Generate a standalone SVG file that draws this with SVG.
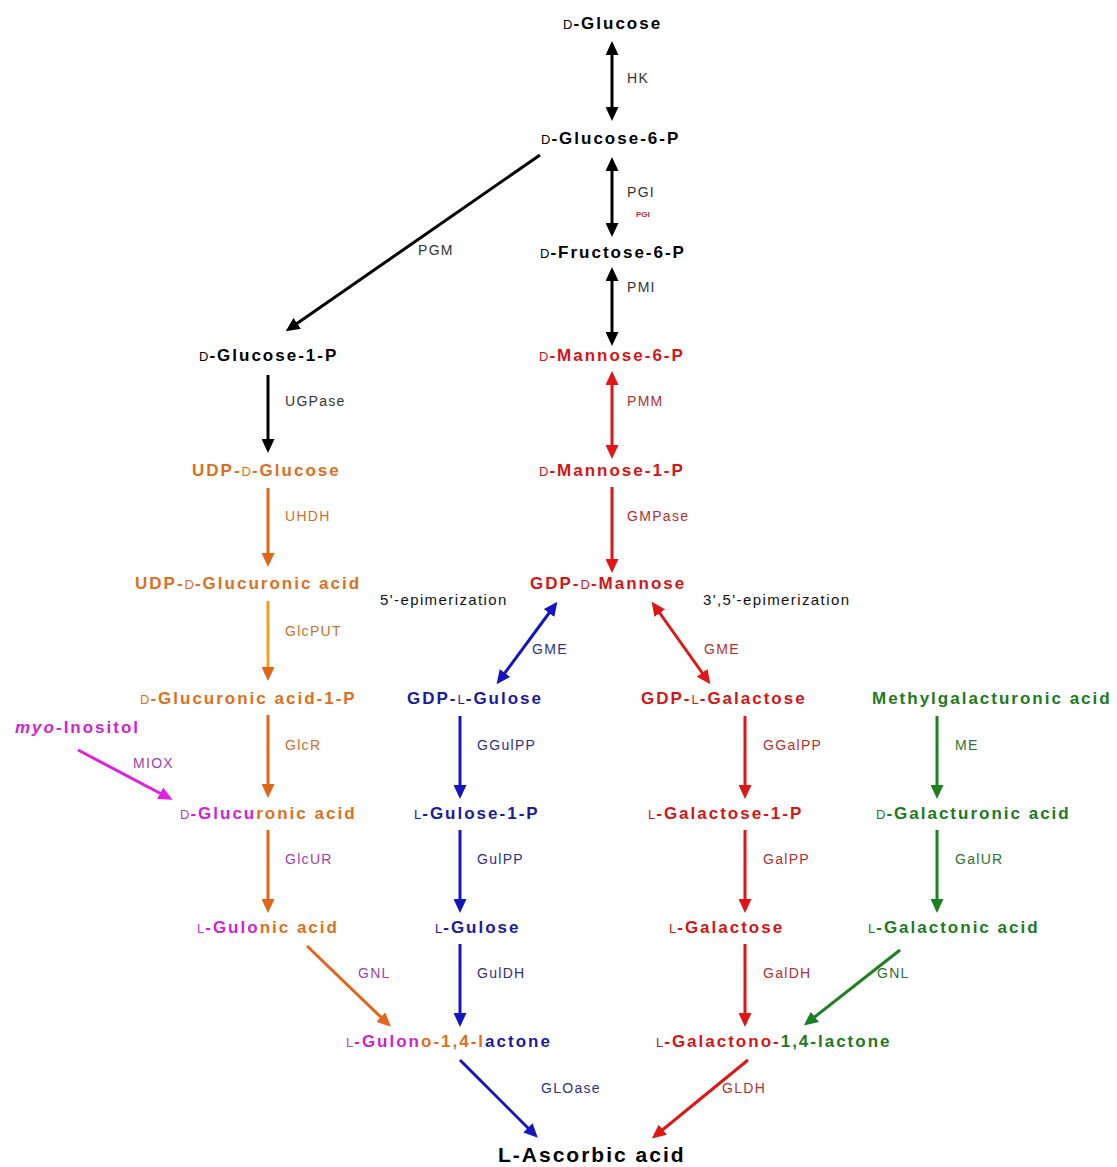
<svg xmlns="http://www.w3.org/2000/svg" width="1117" height="1167" viewBox="0 0 1117 1167">
<style>
.n{font-family:"Liberation Sans",Arial,sans-serif;font-weight:bold;font-size:17px;letter-spacing:2px}
.p{font-weight:normal;font-size:13px;letter-spacing:1px}
.e{font-family:"Liberation Sans",Arial,sans-serif;font-size:14px;letter-spacing:1.3px}
.ep{font-family:"Liberation Sans",Arial,sans-serif;font-size:15px;letter-spacing:1.4px;fill:#111}
.k{fill:#000}.o{fill:#dd6f1c}.r{fill:#d41515}.b{fill:#1a1aa0}.g{fill:#1c7a1c}.m{fill:#d21fd2}.mp{fill:#b040c0}
.ek{fill:#333}.eo{fill:#c87030}.er{fill:#b03030}.eb{fill:#303080}.eg{fill:#307030}.em{fill:#a040b0}
.big{font-size:21px;letter-spacing:2px}
line{stroke-width:3;fill:none}
.sk{stroke:#000}.so{stroke:#e0661a}.sy{stroke:#f0a020}.sr{stroke:#e01515}.sb{stroke:#1414c0}.sg{stroke:#1c8020}.sm{stroke:#e020e0}
</style>
<defs>
<marker id="ak" markerUnits="userSpaceOnUse" markerWidth="15" markerHeight="13" refX="10" refY="6.5" orient="auto-start-reverse"><path d="M0,0 L14,6.5 L0,13 z" fill="#000"/></marker>
<marker id="ao" markerUnits="userSpaceOnUse" markerWidth="15" markerHeight="13" refX="10" refY="6.5" orient="auto-start-reverse"><path d="M0,0 L14,6.5 L0,13 z" fill="#e0661a"/></marker>
<marker id="ar" markerUnits="userSpaceOnUse" markerWidth="15" markerHeight="13" refX="10" refY="6.5" orient="auto-start-reverse"><path d="M0,0 L14,6.5 L0,13 z" fill="#e01515"/></marker>
<marker id="ab" markerUnits="userSpaceOnUse" markerWidth="15" markerHeight="13" refX="10" refY="6.5" orient="auto-start-reverse"><path d="M0,0 L14,6.5 L0,13 z" fill="#1414c0"/></marker>
<marker id="ag" markerUnits="userSpaceOnUse" markerWidth="15" markerHeight="13" refX="10" refY="6.5" orient="auto-start-reverse"><path d="M0,0 L14,6.5 L0,13 z" fill="#1c8020"/></marker>
<marker id="am" markerUnits="userSpaceOnUse" markerWidth="15" markerHeight="13" refX="10" refY="6.5" orient="auto-start-reverse"><path d="M0,0 L14,6.5 L0,13 z" fill="#e020e0"/></marker>
</defs>
<rect width="1117" height="1167" fill="#fff"/>

<g id="connectors">
<line class="sk" x1="612" y1="45" x2="612" y2="117" marker-start="url(#ak)" marker-end="url(#ak)"/>
<line class="sk" x1="612" y1="161" x2="612" y2="233" marker-start="url(#ak)" marker-end="url(#ak)"/>
<line class="sk" x1="612" y1="271" x2="612" y2="342" marker-start="url(#ak)" marker-end="url(#ak)"/>
<line class="sk" x1="540" y1="155" x2="289" y2="329" marker-end="url(#ak)"/>
<line class="sk" x1="268" y1="375" x2="268" y2="449" marker-end="url(#ak)"/>
<line class="sr" x1="612" y1="375" x2="612" y2="455" marker-start="url(#ar)" marker-end="url(#ar)"/>
<line class="sr" x1="612" y1="487" x2="612" y2="569" marker-end="url(#ar)"/>
<line class="so" x1="268" y1="488" x2="268" y2="563" marker-end="url(#ao)"/>
<line class="sy" x1="268" y1="601" x2="268" y2="677" marker-end="url(#ao)"/>
<line class="so" x1="268" y1="715" x2="268" y2="794" marker-end="url(#ao)"/>
<line class="sm" x1="78" y1="750" x2="169" y2="798" marker-end="url(#am)"/>
<line class="so" x1="268" y1="830" x2="268" y2="909" marker-end="url(#ao)"/>
<line class="so" x1="307" y1="946" x2="388" y2="1024" marker-end="url(#ao)"/>
<line class="sb" x1="555" y1="605" x2="499" y2="681" marker-start="url(#ab)" marker-end="url(#ab)"/>
<line class="sr" x1="654" y1="605" x2="708" y2="681" marker-start="url(#ar)" marker-end="url(#ar)"/>
<line class="sb" x1="460" y1="716" x2="460" y2="795" marker-end="url(#ab)"/>
<line class="sb" x1="460" y1="830" x2="460" y2="909" marker-end="url(#ab)"/>
<line class="sb" x1="460" y1="944" x2="460" y2="1023" marker-end="url(#ab)"/>
<line class="sr" x1="745" y1="716" x2="745" y2="795" marker-end="url(#ar)"/>
<line class="sr" x1="745" y1="830" x2="745" y2="909" marker-end="url(#ar)"/>
<line class="sr" x1="745" y1="944" x2="745" y2="1023" marker-end="url(#ar)"/>
<line class="sg" x1="937" y1="716" x2="937" y2="795" marker-end="url(#ag)"/>
<line class="sg" x1="937" y1="830" x2="937" y2="909" marker-end="url(#ag)"/>
<line class="sg" x1="900" y1="950" x2="807" y2="1023" marker-end="url(#ag)"/>
<line class="sb" x1="460" y1="1060" x2="535" y2="1135" marker-end="url(#ab)"/>
<line class="sr" x1="748" y1="1060" x2="655" y2="1136" marker-end="url(#ar)"/>
</g>

<g id="enzyme-labels">
<text class="e ek" x="627" y="83">HK</text>
<text class="e ek" x="627" y="197">PGI</text>
<text x="636" y="217" font-family="Liberation Sans,Arial,sans-serif" font-size="8" font-weight="bold" fill="#c03030">PGI</text>
<text class="e ek" x="627" y="292">PMI</text>
<text class="e ek" x="418" y="255">PGM</text>
<text class="e ek" x="285" y="406">UGPase</text>
<text class="e er" x="627" y="406">PMM</text>
<text class="e eo" x="285" y="521">UHDH</text>
<text class="e er" x="627" y="521">GMPase</text>
<text class="e eo" x="285" y="636">GlcPUT</text>
<text class="ep" x="380" y="605">5'-epimerization</text>
<text class="ep" x="703" y="605">3',5'-epimerization</text>
<text class="e eb" x="532" y="654">GME</text>
<text class="e er" x="704" y="654">GME</text>
<text class="e eo" x="285" y="750">GlcR</text>
<text class="e em" x="133" y="768">MIOX</text>
<text class="e eb" x="477" y="750">GGulPP</text>
<text class="e er" x="763" y="750">GGalPP</text>
<text class="e eg" x="955" y="750">ME</text>
<text class="e em" x="285" y="864">GlcUR</text>
<text class="e eb" x="477" y="864">GulPP</text>
<text class="e er" x="763" y="864">GalPP</text>
<text class="e eg" x="955" y="864">GalUR</text>
<text class="e em" x="358" y="978">GNL</text>
<text class="e eb" x="477" y="978">GulDH</text>
<text class="e er" x="763" y="978">GalDH</text>
<text class="e eg" x="877" y="978">GNL</text>
<text class="e eb" x="541" y="1093">GLOase</text>
<text class="e er" x="722" y="1093">GLDH</text>
</g>

<g id="n-glucose"><text class="n k" x="563" y="29"><tspan class="p">D</tspan>-Glucose</text></g>
<g id="n-glucose6p"><text class="n k" x="541" y="144"><tspan class="p">D</tspan>-Glucose-6-P</text></g>
<g id="n-fructose6p"><text class="n k" x="540" y="258"><tspan class="p">D</tspan>-Fructose-6-P</text></g>
<g id="n-glucose1p"><text class="n k" x="199" y="361"><tspan class="p">D</tspan>-Glucose-1-P</text></g>
<g id="n-mannose6p"><text class="n r" x="539" y="361"><tspan class="p">D</tspan>-Mannose-6-P</text></g>
<g id="n-udpglucose"><text class="n o" x="192" y="476">UDP-<tspan class="p">D</tspan>-Glucose</text></g>
<g id="n-mannose1p"><text class="n r" x="539" y="476"><tspan class="p">D</tspan>-Mannose-1-P</text></g>
<g id="n-udpglucuronic"><text class="n o" x="135" y="589">UDP-<tspan class="p">D</tspan>-Glucuronic acid</text></g>
<g id="n-gdpmannose"><text class="n r" x="530" y="589">GDP-<tspan class="p">D</tspan>-Mannose</text></g>
<g id="n-glucuronic1p"><text class="n o" x="140" y="704"><tspan class="p">D</tspan>-Glucuronic acid-1-P</text></g>
<g id="n-gdpgulose"><text class="n b" x="407" y="704">GDP-<tspan class="p">L</tspan>-Gulose</text></g>
<g id="n-gdpgalactose"><text class="n r" x="641" y="704">GDP-<tspan class="p">L</tspan>-Galactose</text></g>
<g id="n-methylgal"><text class="n g" x="872" y="704">Methylgalacturonic acid</text></g>
<g id="n-inositol"><text class="n m" x="15" y="733"><tspan font-style="italic">myo</tspan>-Inositol</text></g>
<g id="n-glucuronic"><text class="n" x="180" y="819"><tspan class="p mp">D</tspan><tspan class="m">-Glucu</tspan><tspan class="o">ronic acid</tspan></text></g>
<g id="n-gulose1p"><text class="n b" x="414" y="819"><tspan class="p">L</tspan>-Gulose-1-P</text></g>
<g id="n-galactose1p"><text class="n r" x="648" y="819"><tspan class="p">L</tspan>-Galactose-1-P</text></g>
<g id="n-galacturonic"><text class="n g" x="876" y="819"><tspan class="p">D</tspan>-Galacturonic acid</text></g>
<g id="n-gulonic"><text class="n" x="197" y="933"><tspan class="p mp">L</tspan><tspan class="m">-Gulo</tspan><tspan class="o">nic acid</tspan></text></g>
<g id="n-gulose"><text class="n b" x="435" y="933"><tspan class="p">L</tspan>-Gulose</text></g>
<g id="n-galactose"><text class="n r" x="669" y="933"><tspan class="p">L</tspan>-Galactose</text></g>
<g id="n-galactonic"><text class="n g" x="868" y="933"><tspan class="p">L</tspan>-Galactonic acid</text></g>
<g id="n-gulonolactone"><text class="n" x="346" y="1047"><tspan class="p mp">L</tspan><tspan class="m">-Gulon</tspan><tspan class="o">o-1,4-l</tspan><tspan class="b">actone</tspan></text></g>
<g id="n-galactonolactone"><text class="n" x="656" y="1047"><tspan class="p" fill="#a02828">L</tspan><tspan class="r">-Galactono-</tspan><tspan class="g">1,4-lactone</tspan></text></g>
<g id="n-ascorbic"><text class="n k big" x="498" y="1162">L-Ascorbic acid</text></g>
</svg>
